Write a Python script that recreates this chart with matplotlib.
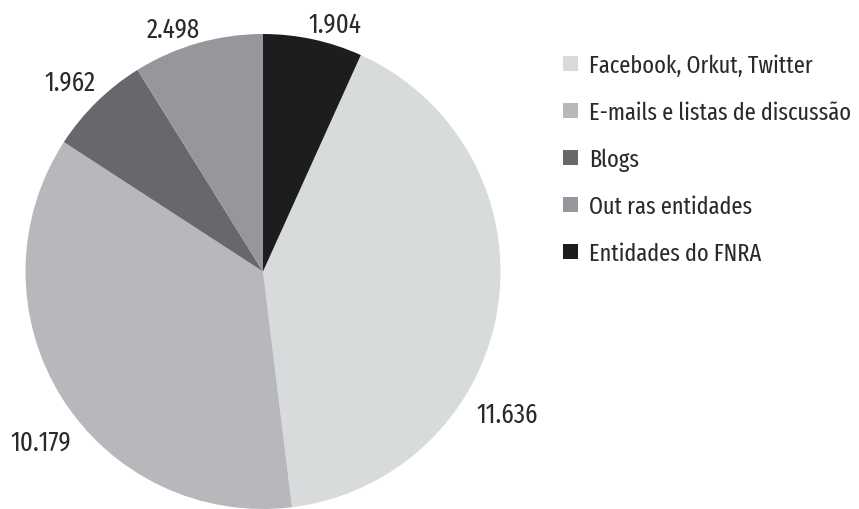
import matplotlib
matplotlib.use("Agg")
import matplotlib.pyplot as plt
import numpy as np
from matplotlib.patches import Rectangle
from matplotlib import font_manager

categories = ["Facebook, Orkut, Twitter", "E-mails e listas de discussão", "Blogs",
              "Out ras entidades", "Entidades do FNRA"]
values = [11.636, 10.179, 1.962, 2.498, 1.904]
value_labels = ["11.636", "10.179", "1.962", "2.498", "1.904"]
colors = ["#d8dbdc", "#b8b8bc", "#68676b", "#97969a", "#1d1d20"]

# label placement (angle in degrees, distance as fraction of radius)
label_pos = [(-29.94, 1.186), (-142.96, 1.171), (135.1, 1.148), (110.1, 1.101), (73.96, 1.097)]

names = {f.name for f in font_manager.fontManager.ttflist}
fam = "Fira Sans Extra Condensed" if "Fira Sans Extra Condensed" in names else "DejaVu Sans"
plt.rcParams['font.family'] = [fam, 'DejaVu Sans']

W, H = 859, 510
fig = plt.figure(figsize=(W / 100, H / 100), dpi=100)
ax = fig.add_axes([0, 0, 1, 1])

cx, cy, R = 263, H - 272.5, 237.5
total = sum(values)
start = 90 - 360 * values[-1] / total
wedges, _ = ax.pie(values, colors=colors, startangle=start, counterclock=False,
                   center=(cx, cy), radius=R, frame=True,
                   wedgeprops=dict(linewidth=0))
ax.set_xlim(0, W)
ax.set_ylim(0, H)
ax.set_aspect('equal')
ax.axis('off')

for lab, (ang, d) in zip(value_labels, label_pos):
    a = np.deg2rad(ang)
    ax.text(cx + d * R * np.cos(a), cy + d * R * np.sin(a) - 2.5, lab, ha='center', va='center',
            fontsize=19.5, color='#2a2a2a')

# legend
sq = 15
for i, (cat, col) in enumerate(zip(categories, colors)):
    yc = H - (64 + 47 * i)
    ax.add_patch(Rectangle((563, yc - sq / 2), sq, sq, facecolor=col, edgecolor='none'))
    ax.text(589, yc - 2, cat, ha='left', va='center', fontsize=17.5, color='#2a2a2a')

fig.savefig("out.png", dpi=100)
